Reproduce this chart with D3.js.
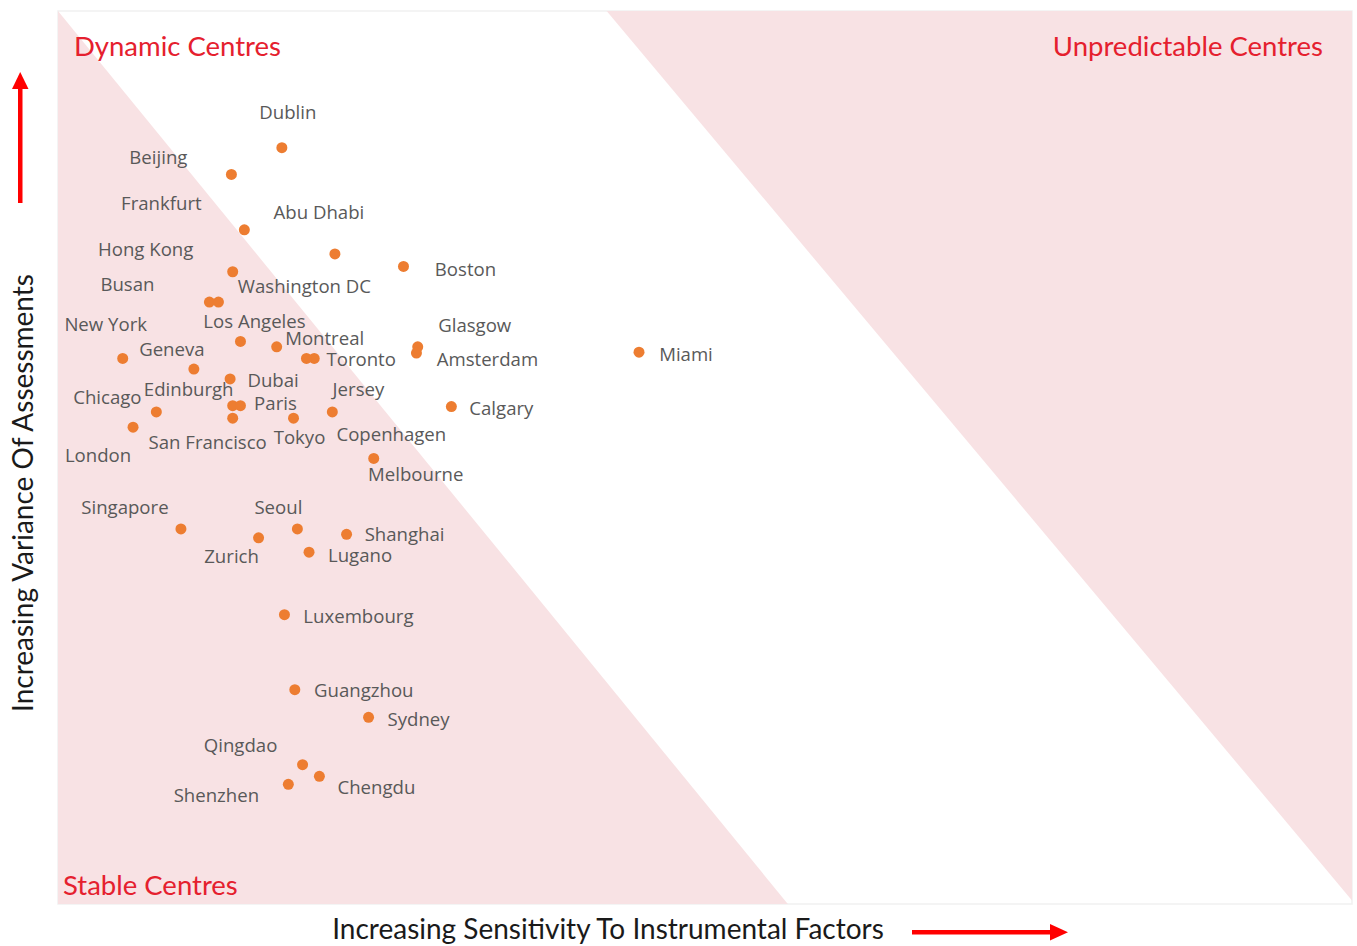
<!DOCTYPE html>
<html>
<head>
<meta charset="utf-8">
<script src="https://cdn.jsdelivr.net/npm/d3@7/dist/d3.min.js"></script>
<style>
  html, body { margin: 0; padding: 0; background: #ffffff; }
  svg { display: block; }
</style>
</head>
<body>
<svg id="chart" width="1357" height="946"></svg>
<script>
// Financial centres: sensitivity to instrumental factors (x) vs variance of assessments (y)
const cities = ["Dublin","Beijing","Frankfurt","Abu Dhabi","Boston","Hong Kong","Busan","Washington DC",
  "Los Angeles","New York","Montreal","Toronto","Jersey","Glasgow","Amsterdam","Miami","Geneva","Dubai",
  "Edinburgh","Paris","Chicago","San Francisco","Tokyo","Copenhagen","London","Calgary","Melbourne",
  "Singapore","Zurich","Seoul","Shanghai","Lugano","Luxembourg","Guangzhou","Sydney","Qingdao","Chengdu","Shenzhen"];

const sensitivity = [17.3,13.4,14.4,21.4,26.7,13.5,11.7,12.4,
  14.1,5.0,16.9,19.8,19.2,27.8,27.7,44.9,10.5,13.3,
  13.5,14.1,7.6,13.5,18.2,21.2,5.8,30.4,24.4,
  9.5,15.5,18.5,22.3,19.4,17.5,18.3,24.0,18.9,20.2,17.8];

const variance = [84.7,81.7,75.5,72.8,71.4,70.8,67.4,67.4,
  63.0,61.1,62.4,61.1,61.1,62.4,61.7,61.8,59.9,58.8,
  55.8,55.8,55.1,54.4,54.4,55.1,53.4,55.7,49.9,
  42.0,41.0,42.0,41.4,39.4,32.4,24.0,20.9,15.6,14.3,13.4];

// Zone outlines in the same units as the data
const stableZone = [[0,100],[0,0],[56.4,0]];
const unpredictableZone = [[42.4,100],[100,100],[100,0.4]];

const zoneTitles = ["Dynamic Centres","Unpredictable Centres","Stable Centres"];
const xTitle = "Increasing Sensitivity To Instrumental Factors";
const yTitle = "Increasing Variance Of Assessments";

// Where each city's name sits relative to its dot (px)
const labelOffsets = [[6,-36],[-73,-18],[-83,-27],[-16,-42],[62,2],[-87,-23],[-82,-19],[86,-17],
  [14,-21],[-17,-35],[48,-9],[47,0],[52,30],[57,-22],[71,5],[47,1],[-22,-21],[43,1],
  [-44,-17],[35,-3],[-49,-15],[-25,23],[6,18],[59,22],[-35,27],[50,1],[42,15],
  [-56,-22],[-27,18],[-19,-22],[58,-1],[51,2],[74,1],[69,0],[50,1],[-62,-20],[57,10],[-72,10]];

const svg = d3.select("#chart");
const plot = { left: 58, right: 1352, top: 11, bottom: 904 };

const x = d3.scaleLinear().domain([0, 100]).range([plot.left, plot.right]);
const y = d3.scaleLinear().domain([0, 100]).range([plot.bottom, plot.top]);

const zoneLine = d3.line().x(d => x(d[0])).y(d => y(d[1])).curve(d3.curveLinearClosed);

// plot frame
svg.append("rect")
  .attr("x", plot.left).attr("y", plot.top)
  .attr("width", plot.right - plot.left).attr("height", plot.bottom - plot.top)
  .attr("fill", "#ffffff").attr("stroke", "#f1f1f1").attr("stroke-width", 1.5);

// shaded zones
[stableZone, unpredictableZone].forEach(z => {
  svg.append("path").attr("d", zoneLine(z)).attr("fill", "#f8e2e4");
});

// zone titles
const zoneFont = "Lato, 'Liberation Sans', sans-serif";
const zoneSize = 27.5;
svg.append("text").text(zoneTitles[0])
  .attr("x", 74).attr("y", 45).attr("dominant-baseline", "central")
  .attr("font-family", zoneFont).attr("font-size", zoneSize).attr("fill", "#e5202e");
svg.append("text").text(zoneTitles[1])
  .attr("x", 1323).attr("y", 45).attr("text-anchor", "end").attr("dominant-baseline", "central")
  .attr("font-family", zoneFont).attr("font-size", zoneSize).attr("fill", "#e5202e");
svg.append("text").text(zoneTitles[2])
  .attr("x", 63).attr("y", 884).attr("dominant-baseline", "central")
  .attr("font-family", zoneFont).attr("font-size", zoneSize).attr("fill", "#e5202e");

// points
const data = cities.map((c, i) => ({ name: c, sx: sensitivity[i], vy: variance[i], off: labelOffsets[i] }));

const labelFont = "'Open Sans', 'DejaVu Sans', sans-serif";
svg.append("g").selectAll("text").data(data).join("text")
  .attr("x", d => x(d.sx) + d.off[0])
  .attr("y", d => y(d.vy) + d.off[1])
  .attr("text-anchor", "middle").attr("dominant-baseline", "central")
  .attr("font-family", labelFont).attr("font-size", 18.6).attr("fill", "#595959")
  .text(d => d.name);

svg.append("g").selectAll("circle").data(data).join("circle")
  .attr("cx", d => x(d.sx)).attr("cy", d => y(d.vy)).attr("r", 5.5)
  .attr("fill", "#ed7d31");

// axis titles with arrows
const titleFont = "Lato, 'Liberation Sans', sans-serif";
svg.append("text").text(xTitle)
  .attr("x", 608).attr("y", 939).attr("text-anchor", "middle")
  .attr("font-family", titleFont).attr("font-size", 28).attr("fill", "#1a1a1a");
svg.append("text").text(yTitle)
  .attr("transform", "translate(22,493) rotate(-90)")
  .attr("text-anchor", "middle").attr("dominant-baseline", "central")
  .attr("font-family", titleFont).attr("font-size", 28).attr("fill", "#1a1a1a");

const red = "#ff0000";
// right arrow
svg.append("rect").attr("x", 912).attr("y", 930).attr("width", 142).attr("height", 4.5).attr("fill", red);
svg.append("path").attr("d", "M1050,924 L1068,932.2 L1050,940.5 Z").attr("fill", red);
// up arrow
svg.append("rect").attr("x", 18).attr("y", 86).attr("width", 4.5).attr("height", 117).attr("fill", red);
svg.append("path").attr("d", "M12,89 L20.2,72 L28.5,89 Z").attr("fill", red);
</script>
</body>
</html>
